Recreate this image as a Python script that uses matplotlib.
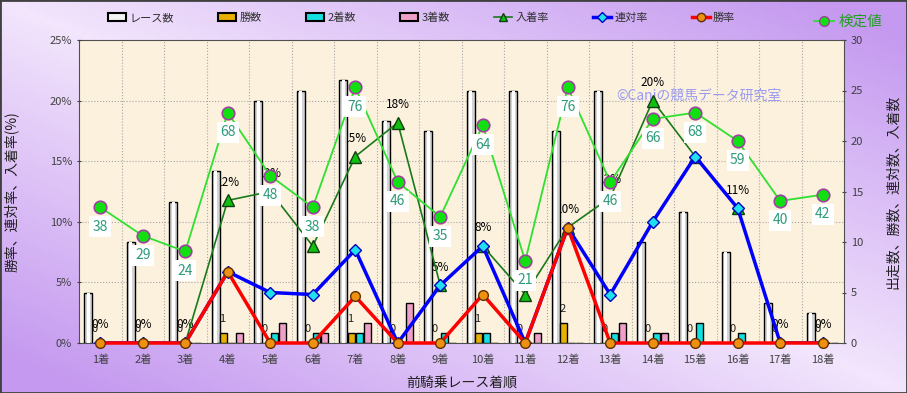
import numpy as np
import matplotlib.pyplot as plt
from matplotlib.patches import Rectangle
from matplotlib.lines import Line2D

plt.rcParams['font.family'] = ['Noto Sans CJK JP', 'DejaVu Sans']

# data
cats = ["%d着" % i for i in range(1, 19)]
races = [5, 10, 14, 17, 24, 25, 26, 22, 21, 25, 25, 21, 25, 10, 13, 9, 4, 3]
wins = [0, 0, 0, 1, 0, 0, 1, 0, 0, 1, 0, 2, 0, 0, 0, 0, 0, 0]
seconds = [0, 0, 0, 0, 1, 1, 1, 0, 1, 1, 0, 0, 1, 1, 2, 1, 0, 0]
thirds = [0, 0, 0, 1, 2, 1, 2, 4, 0, 0, 1, 0, 2, 1, 0, 0, 0, 0]
kentei = [38, 29, 24, 68, 48, 38, 76, 46, 35, 64, 21, 76, 46, 66, 68, 59, 40, 42]

r = np.array(races, float)
w = np.array(wins, float)
s = np.array(seconds, float)
t = np.array(thirds, float)
place_rate = (w + s + t) / r * 100
rentai_rate = (w + s) / r * 100
win_rate = w / r * 100

x = np.arange(len(cats))

fig = plt.figure(figsize=(9.07, 3.93), dpi=100)

# background gradient
bg = fig.add_axes([0, 0, 1, 1], zorder=-10)
gx, gy = np.meshgrid(np.linspace(0, 1, 200), np.linspace(0, 1, 100))
tt = np.clip(np.abs(gx - gy) * 1.1, 0, 1)
light = np.array([0.95, 0.90, 0.99])
purple = np.array([0.77, 0.60, 0.94])
img = light[None, None, :] * (1 - tt[..., None]) + purple[None, None, :] * tt[..., None]
bg.imshow(img, aspect='auto', extent=[0, 1, 0, 1])
bg.set_xlim(0, 1)
bg.set_ylim(0, 1)
bg.axis('off')
bg.add_patch(Rectangle((0, 0), 1, 1, fill=False, ec='#404040', lw=2, transform=bg.transAxes))

# counts axes (right)
ax = fig.add_axes([79 / 907, 1 - 343 / 393, (844 - 79) / 907, (343 - 40) / 393])
ax2 = ax.twinx()
ax3 = ax.twinx()

ax.set_facecolor('#fbf1dd')
ax.set_xlim(-0.5, len(cats) - 0.5)
ax.set_ylim(0, 30)
ax.yaxis.tick_right()
ax.yaxis.set_label_position('right')
ax.set_yticks(range(0, 31, 5))
ax.set_xticks(x)
ax.set_xticklabels(cats)
ax.tick_params(axis='both', labelsize=8, colors='#404040', length=3, direction='inout')
ax.tick_params(axis='x', length=0, pad=8)
ax.set_ylabel("出走数、勝数、連対数、入着数", fontsize=10, color='#202020', labelpad=16)
ax.set_xlabel("前騎乗レース着順", fontsize=10, color='#202020', labelpad=8)
for sp in ax.spines.values():
    sp.set_color('#505050')

for xv in np.arange(0.5, len(cats) - 0.5, 1):
    ax.axvline(xv, color='#a8a8a8', ls=':', lw=0.8, zorder=0.5)
for yv in [6, 12, 18, 24]:
    ax.axhline(yv, color='#a8a8a8', ls=':', lw=0.8, zorder=0.5)

sw = 0.188
ax.bar(x - 1.5 * sw, races, sw * 0.95, color='#d4d4d4', ec='black', lw=1, zorder=3)
ax.bar(x - 1.5 * sw, races, sw * 0.4, color='white', lw=0, zorder=3.1)
ax.bar(x - 0.5 * sw, wins, sw * 0.85, color='#e8b000', ec='black', lw=1, zorder=3)
ax.bar(x + 0.5 * sw, seconds, sw * 0.85, color='#14e0e0', ec='black', lw=1, zorder=3)
ax.bar(x + 1.5 * sw, thirds, sw * 0.85, color='#f0a0c8', ec='black', lw=1, zorder=3)

# percent axes (left)
ax2.set_ylim(0, 25)
ax2.yaxis.tick_left()
ax2.yaxis.set_label_position('left')
ax2.set_yticks(range(0, 26, 5))
ax2.set_yticklabels(["%d%%" % v for v in range(0, 26, 5)])
ax2.tick_params(axis='y', labelsize=8, colors='#404040', length=3, direction='inout')
ax2.set_ylabel("勝率、連対率、入着率(%)", fontsize=10, color='#202020', labelpad=22)
for sp in ax2.spines.values():
    sp.set_visible(False)

# labels under bars
for i in range(len(cats)):
    ax.annotate("%d%%" % int(np.floor(place_rate[i] + 0.5)), (x[i], place_rate[i]),
                xycoords=ax2.transData, xytext=(0, 13), textcoords='offset points',
                ha='center', va='center', fontsize=8.5, color='black', zorder=2)
    ax.annotate("%d" % wins[i], (x[i] - 0.5 * sw, wins[i]), xytext=(-1, 10),
                textcoords='offset points', ha='center', va='center',
                fontsize=8, color='#202020', zorder=2)

ax.text(0.81, 0.815, "©Caniの競馬データ研究室", transform=ax.transAxes, ha='center',
        va='center', fontsize=10, color='#9a9af0', zorder=2)

ax2.plot(x, place_rate, color='#1a7a1a', lw=1.2, marker='^', ms=8, mfc='#10c010',
         mec='#104010', zorder=4)
ax2.plot(x, rentai_rate, color='#0000ff', lw=2.5, marker='D', ms=6, mfc='#20e0f0',
         mec='#0000c0', zorder=5)
ax2.plot(x, win_rate, color='#ff0000', lw=2.5, marker='o', ms=7, mfc='#f09010',
         mec='#603000', zorder=6, clip_on=False)

# kentei axes (hidden)
ax3.set_ylim(-5, 91)
ax3.axis('off')
ax3.plot(x, kentei, color='#30e030', lw=1.3, marker='o', ms=9, mfc='#10e010',
         mec='#a040a0', mew=1.2, zorder=4)
for i in range(len(cats)):
    ax3.annotate(str(kentei[i]), (x[i], kentei[i]), xytext=(0, -14),
                 textcoords='offset points', ha='center', va='center', fontsize=10,
                 color='#2e9a7a', zorder=5,
                 bbox=dict(boxstyle='square,pad=0.25', fc='white', ec='none'))

# legends
handles = [
    Rectangle((0, 0), 1, 1, fc='#f4f4f4', ec='black', lw=1.5),
    Rectangle((0, 0), 1, 1, fc='#e8b000', ec='black', lw=1.5),
    Rectangle((0, 0), 1, 1, fc='#14e0e0', ec='black', lw=1.5),
    Rectangle((0, 0), 1, 1, fc='#f0a0c8', ec='black', lw=1.5),
    Line2D([], [], color='#1a7a1a', lw=1.2, marker='^', ms=6, mfc='#10c010', mec='#104010'),
    Line2D([], [], color='#0000ff', lw=2.5, marker='D', ms=5, mfc='#20e0f0', mec='#0000c0'),
    Line2D([], [], color='#ff0000', lw=2.5, marker='o', ms=6, mfc='#f09010', mec='#603000'),
]
names = ["レース数", "勝数", "2着数", "3着数", "入着率", "連対率", "勝率"]
fig.legend(handles, names, loc='center', bbox_to_anchor=(0.465, 0.955), ncol=7,
           frameon=False, fontsize=8, handlelength=1.6, handleheight=0.6,
           handletextpad=0.3, columnspacing=4.0, labelcolor='#303030')
fig.legend([Line2D([], [], color='#30e030', lw=1.3, marker='o', ms=7, mfc='#10e010',
                   mec='#a040a0')], ["検定値"], loc='center',
           bbox_to_anchor=(0.935, 0.945), frameon=False, fontsize=10.5,
           handlelength=1.4, handletextpad=0.3, labelcolor='#20a020')

fig.savefig("out.png", dpi=100)
